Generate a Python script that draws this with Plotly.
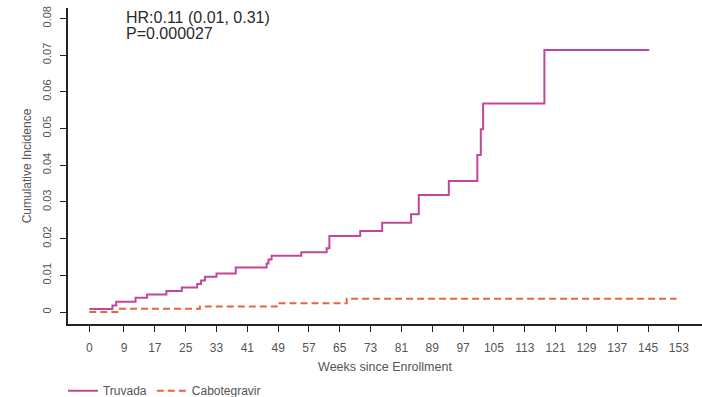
import plotly.graph_objects as go

# Cumulative incidence step functions (weeks since enrollment)
truvada_weeks = [0, 6, 7, 12, 15, 20, 24, 28, 29, 30, 33, 38, 46, 46.5, 47.3,
                 55, 61.6, 62.3, 70.3, 76, 83.5, 85.5, 93.3, 100.7, 101.6,
                 102.2, 118.1]
truvada_ci = [0.0008, 0.0018, 0.0028, 0.0039, 0.0048, 0.0057, 0.0067, 0.0076,
              0.0086, 0.0096, 0.0105, 0.0121, 0.0132, 0.0143, 0.0153, 0.0163,
              0.0174, 0.0207, 0.0221, 0.0243, 0.0266, 0.0319, 0.0357, 0.0428,
              0.0498, 0.0568, 0.0714]
truvada_end = 145.3

cab_weeks = [0, 7.7, 28.7, 48.6, 66.8]
cab_ci = [0.0, 0.0009, 0.0015, 0.0024, 0.0036]
cab_end = 152.4

x_ticks = [0, 9, 17, 25, 33, 41, 49, 57, 65, 73, 81, 89, 97, 105, 113, 121,
           129, 137, 145, 153]
y_ticks = [0, 0.01, 0.02, 0.03, 0.04, 0.05, 0.06, 0.07, 0.08]
y_tick_text = ["0", "0.01", "0.02", "0.03", "0.04", "0.05", "0.06", "0.07", "0.08"]

hr_text = "HR:0.11 (0.01, 0.31)"
p_text = "P=0.000027"

FONT = "Liberation Sans, Arial, sans-serif"

fig = go.Figure()
fig.add_trace(go.Scatter(
    x=truvada_weeks + [truvada_end], y=truvada_ci + [truvada_ci[-1]],
    mode="lines", line=dict(shape="hv", color="#C2479B", width=2),
    name="Truvada"))
fig.add_trace(go.Scatter(
    x=cab_weeks + [cab_end], y=cab_ci + [cab_ci[-1]],
    mode="lines", line=dict(shape="hv", color="#E8643F", width=2, dash="7px,4px"),
    name="Cabotegravir"))

fig.add_annotation(xref="paper", yref="paper", x=0.089, y=0.9715,
                   text=hr_text, showarrow=False, xanchor="left", yanchor="middle",
                   font=dict(family=FONT, size=16, color="#2a2a2a"))
fig.add_annotation(xref="paper", yref="paper", x=0.089, y=0.918,
                   text=p_text, showarrow=False, xanchor="left", yanchor="middle",
                   font=dict(family=FONT, size=16, color="#2a2a2a"))

fig.update_layout(
    width=702, height=397,
    margin=dict(l=68, r=0, t=8, b=73, autoexpand=False),
    paper_bgcolor="white", plot_bgcolor="white",
    font=dict(family=FONT, color="#555"),
    showlegend=True,
    legend=dict(orientation="h", x=-0.008, xanchor="left", y=-0.1655, yanchor="top",
                font=dict(size=12, color="#555"), itemwidth=30,
                bgcolor="rgba(0,0,0,0)", tracegroupgap=0),
    xaxis=dict(range=[-5.53, 159.0], tickvals=x_ticks, automargin=False,
               showgrid=False, zeroline=False, showline=True,
               linecolor="#222", linewidth=2, ticks="outside", ticklen=6,
               tickcolor="#222", tickwidth=1, tickfont=dict(size=12, color="#555"),
               ticklabelstandoff=6,
               title=dict(text="Weeks since Enrollment", standoff=8,
                          font=dict(size=12.5, color="#555"))),
    yaxis=dict(range=[-0.00327, 0.08283], tickvals=y_ticks, ticktext=y_tick_text,
               tickangle=-90, automargin=False, showgrid=False, zeroline=False,
               showline=True, linecolor="#222", linewidth=2, ticks="outside",
               ticklen=6, tickcolor="#222", tickwidth=1,
               tickfont=dict(size=11, color="#555"), ticklabelstandoff=5,
               title=dict(text="Cumulative Incidence", standoff=6,
                          font=dict(size=12, color="#555"))),
)

fig.write_html("out.html")
